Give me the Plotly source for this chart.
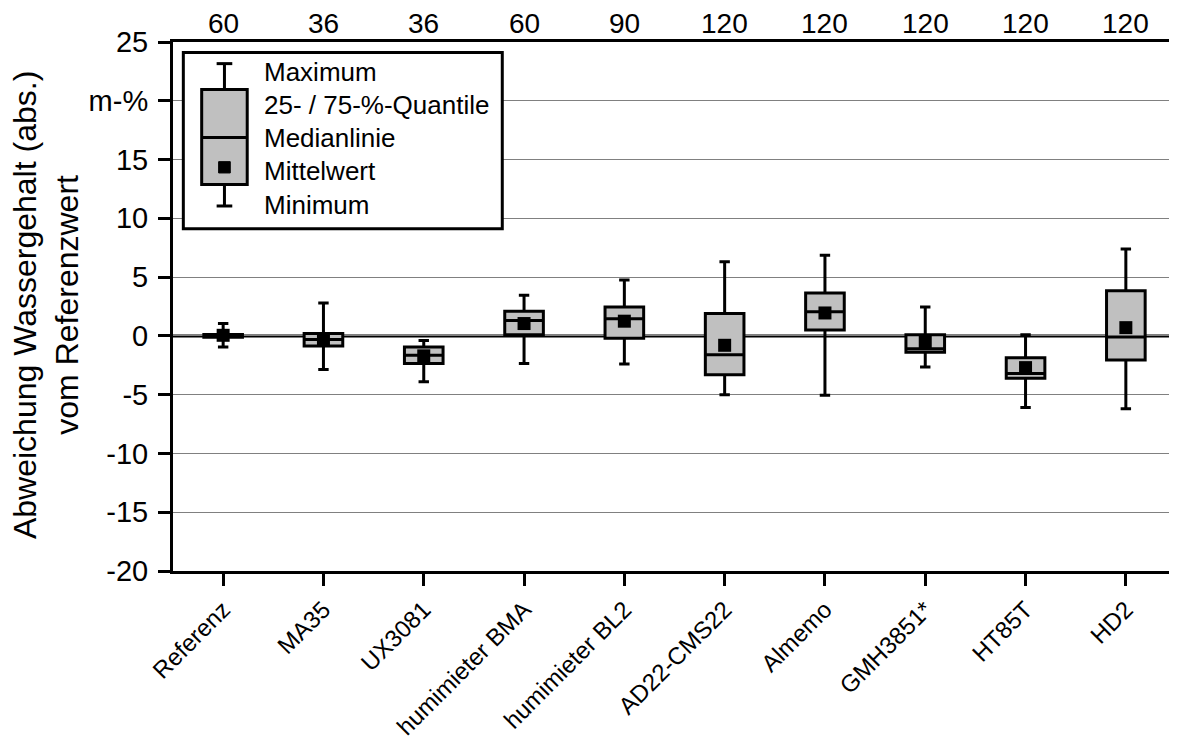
import plotly.graph_objects as go

categories = ["Referenz", "MA35", "UX3081", "humimieter BMA", "humimieter BL2",
              "AD22-CMS22", "Almemo", "GMH3851*", "HT85T", "HD2"]
n_values = [60, 36, 36, 60, 90, 120, 120, 120, 120, 120]
minimum = [-0.95, -2.85, -3.9, -2.35, -2.4, -5.0, -5.05, -2.65, -6.1, -6.2]
q1 = [-0.12, -0.85, -2.35, 0.1, -0.2, -3.3, 0.5, -1.4, -3.6, -2.05]
median = [0.0, -0.3, -1.65, 1.3, 1.45, -1.6, 2.05, -1.1, -3.2, -0.1]
q3 = [0.12, 0.2, -0.95, 2.1, 2.45, 1.9, 3.65, 0.1, -1.85, 3.85]
maximum = [1.05, 2.8, -0.4, 3.45, 4.75, 6.3, 6.85, 2.45, 0.1, 7.4]
mean = [0.05, -0.35, -1.7, 1.05, 1.25, -0.8, 1.95, -0.55, -2.7, 0.7]

ytick_vals = [-20, -15, -10, -5, 0, 5, 10, 15, 20, 25]
ytick_text = ["-20", "-15", "-10", "-5", "0", "5", "10", "15", "m-%", "25"]

FONT = "Liberation Sans, Arial, sans-serif"
xpos = list(range(len(categories)))

fig = go.Figure()
fig.add_trace(go.Box(
    x=xpos, q1=q1, median=median, q3=q3, lowerfence=minimum, upperfence=maximum,
    width=0.385, whiskerwidth=0.27, fillcolor="#c0c0c0",
    line=dict(color="black", width=3), boxpoints=False, showlegend=False,
    hoverinfo="skip",
))
fig.add_trace(go.Scatter(
    x=xpos, y=mean, mode="markers",
    marker=dict(symbol="square", size=13, color="black", line=dict(width=0)),
    showlegend=False,
))

# sample counts above the plot
for xi, n in zip(xpos, n_values):
    fig.add_annotation(x=xi, y=1, xref="x", yref="paper", text=str(n),
                       showarrow=False, yanchor="bottom", yshift=1,
                       font=dict(family=FONT, size=28, color="black"))

# hand-drawn legend (decoration)
blk = dict(color="black", width=3)
lxc = 0.013
shapes = [
    dict(type="rect", xref="x", yref="y", x0=-0.397, x1=2.783, y0=9.12, y1=24.1,
         line=blk, fillcolor="white", layer="above"),
    dict(type="line", xref="x", yref="y", x0=lxc, x1=lxc, y0=20.95, y1=23.16, line=blk, layer="above"),
    dict(type="line", xref="x", yref="y", x0=lxc, x1=lxc, y0=11.05, y1=12.87, line=blk, layer="above"),
    dict(type="line", xref="x", yref="y", x0=lxc - 0.078, x1=lxc + 0.078, y0=23.16, y1=23.16, line=blk, layer="above"),
    dict(type="line", xref="x", yref="y", x0=lxc - 0.078, x1=lxc + 0.078, y0=11.05, y1=11.05, line=blk, layer="above"),
    dict(type="rect", xref="x", yref="y", x0=lxc - 0.227, x1=lxc + 0.227, y0=12.87, y1=20.95,
         line=blk, fillcolor="#c0c0c0", layer="above"),
    dict(type="line", xref="x", yref="y", x0=lxc - 0.227, x1=lxc + 0.227, y0=16.87, y1=16.87, line=blk, layer="above"),
    dict(type="rect", xref="x", yref="y", x0=lxc - 0.058, x1=lxc + 0.058, y0=13.86, y1=14.82,
         line=dict(color="black", width=1), fillcolor="black", layer="above"),
    # zero line
    dict(type="line", xref="paper", yref="y", x0=0, x1=1, y0=0, y1=0,
         line=dict(color="black", width=3), layer="below"),
    # thin right border
    dict(type="line", xref="paper", yref="paper", x0=1, x1=1, y0=0, y1=1,
         line=dict(color="#505050", width=1), layer="above"),
]
fig.update_layout(shapes=shapes)

legend_labels = ["Maximum", "25- / 75-%-Quantile", "Medianlinie", "Mittelwert", "Minimum"]
legend_y = [22.45, 19.62, 16.83, 14.0, 11.17]
for t, yy in zip(legend_labels, legend_y):
    fig.add_annotation(x=0.384, y=yy, xref="x", yref="y", text=t, showarrow=False,
                       xanchor="left", yanchor="middle",
                       font=dict(family=FONT, size=26, color="black"))

fig.add_annotation(x=-0.126, y=0.502, xref="paper", yref="paper",
                   text="Abweichung Wassergehalt (abs.)<br>vom Referenzwert",
                   textangle=-90, showarrow=False, xanchor="center", yanchor="middle",
                   font=dict(family=FONT, size=32, color="black"))

fig.update_layout(
    width=1169, height=731,
    margin=dict(l=165, r=1, t=34, b=168, autoexpand=False),
    plot_bgcolor="white", paper_bgcolor="white",
    font=dict(family=FONT, color="black"),
    xaxis=dict(range=[-0.5, 9.5], tickvals=xpos, ticktext=categories, tickangle=-45,
               ticks="outside", ticklen=12, tickwidth=3, tickcolor="black",
               showline=True, linecolor="black", linewidth=3, mirror=True,
               showgrid=False, zeroline=False,
               tickfont=dict(family=FONT, size=24, color="black")),
    yaxis=dict(range=[-20, 25], tickvals=ytick_vals, ticktext=ytick_text,
               ticks="outside", ticklen=12, tickwidth=3, tickcolor="black",
               ticklabelstandoff=4,
               showline=True, linecolor="black", linewidth=3, mirror=False,
               showgrid=True, gridcolor="#808080", gridwidth=1, zeroline=False,
               tickfont=dict(family=FONT, size=29, color="black")),
)

fig.write_html("out.html")
